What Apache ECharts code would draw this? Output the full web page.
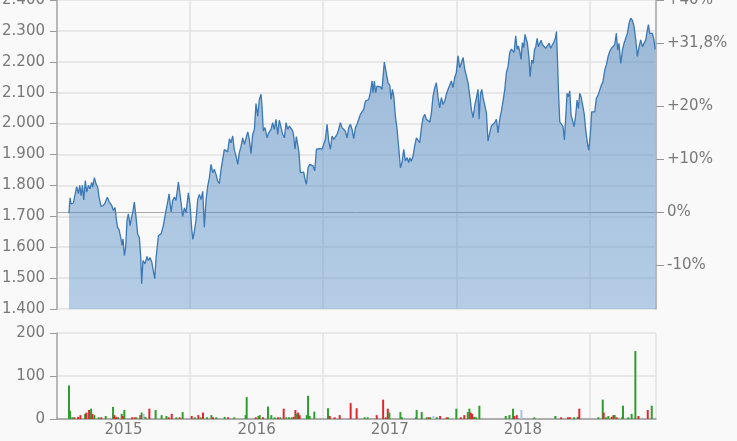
<!DOCTYPE html>
<html><head><meta charset="utf-8">
<script src="https://cdn.jsdelivr.net/npm/echarts@6/dist/echarts.min.js"></script>
<style>html,body{margin:0;padding:0;background:#f9f9f9}#c{width:737px;height:441px}</style>
</head><body><div id="c"></div>
<script>
// ---- data (dates as fractional years) ----
const priceDates = [
2015.090,2015.098,2015.105,2015.123,2015.148,2015.161,2015.171,2015.181,2015.191,2015.201,2015.213,2015.223,2015.236,2015.248,2015.261,2015.268,2015.281,2015.293,2015.306,2015.316,2015.331,2015.348,2015.361,2015.378,2015.393,2015.411,2015.424,2015.436,2015.444,2015.454,2015.466,2015.479,2015.489,2015.496,2015.506,2015.516,2015.526,2015.536,2015.549,2015.561,2015.569,2015.581,2015.591,2015.606,2015.619,2015.629,2015.636,2015.646,2015.661,2015.676,2015.686,2015.699,2015.712,2015.724,2015.734,2015.744,2015.762,2015.782,2015.799,2015.812,2015.827,2015.842,2015.857,2015.869,2015.882,2015.894,2015.912,
2015.932,2015.944,2015.957,2015.969,2015.987,2015.999,2016.012,2016.020,2016.032,2016.045,2016.057,2016.070,2016.082,2016.095,2016.107,2016.120,2016.132,2016.145,2016.157,2016.170,2016.182,2016.195,2016.207,2016.220,2016.232,2016.245,2016.257,2016.270,2016.282,2016.295,2016.307,2016.320,2016.332,2016.345,2016.358,2016.370,2016.383,2016.395,2016.408,2016.420,2016.433,2016.445,2016.458,2016.470,2016.483,2016.495,2016.508,2016.520,2016.533,2016.540,2016.550,2016.563,2016.578,2016.590,2016.608,2016.620,2016.633,2016.645,2016.658,2016.670,2016.683,2016.696,2016.708,2016.721,2016.733,2016.746,2016.758,2016.771,
2016.778,2016.788,2016.798,2016.808,2016.818,2016.828,2016.841,2016.853,2016.866,2016.874,2016.886,2016.899,2016.911,2016.924,2016.936,2016.949,2016.961,2016.974,2016.991,2017.004,2017.016,2017.029,2017.041,2017.054,2017.066,2017.079,2017.091,2017.104,2017.116,2017.129,2017.141,2017.154,2017.166,2017.179,2017.192,2017.204,2017.217,2017.229,2017.242,2017.254,2017.267,2017.279,2017.292,2017.304,2017.317,2017.329,2017.342,2017.354,2017.367,2017.374,2017.384,2017.394,2017.404,2017.417,2017.429,2017.442,2017.449,2017.459,2017.469,2017.479,2017.487,2017.500,2017.510,2017.520,2017.530,2017.542,2017.555,2017.567,2017.580,2017.592,2017.605,2017.617,2017.630,2017.642,
2017.650,2017.662,2017.675,2017.687,2017.700,2017.713,2017.725,2017.738,2017.750,2017.763,2017.775,2017.788,2017.800,2017.813,2017.825,2017.838,2017.850,2017.863,2017.875,2017.888,2017.900,2017.913,2017.925,2017.938,2017.950,2017.963,2017.975,2017.988,2018.000,2018.013,2018.025,2018.038,2018.051,2018.063,2018.076,2018.088,2018.101,2018.113,2018.126,2018.138,2018.151,2018.163,2018.171,2018.181,2018.191,2018.201,2018.213,2018.226,2018.238,2018.251,2018.263,2018.276,2018.288,2018.301,2018.313,2018.326,2018.339,2018.351,2018.364,2018.376,2018.389,2018.401,2018.414,2018.426,2018.434,2018.446,2018.456,2018.466,2018.476,2018.486,2018.496,2018.506,2018.516,
2018.521,2018.534,2018.546,2018.554,2018.566,2018.577,2018.587,2018.597,2018.607,2018.617,2018.627,2018.637,2018.647,2018.659,2018.672,2018.684,2018.697,2018.709,2018.722,2018.734,2018.744,2018.752,2018.759,2018.767,2018.777,2018.789,2018.802,2018.812,2018.822,2018.832,2018.842,2018.852,2018.862,2018.872,2018.885,2018.897,2018.907,2018.917,2018.927,2018.937,2018.947,2018.960,2018.972,2018.985,2018.995,2019.007,2019.017,2019.030,2019.040,2019.052,2019.065,2019.077,2019.090,2019.102,2019.115,2019.127,2019.140,2019.152,2019.165,2019.177,2019.190,2019.202,2019.212,2019.222,2019.235,2019.248,2019.260,2019.273,2019.285,2019.298,2019.310,2019.323,2019.335,2019.348,2019.360,2019.373,2019.385,2019.398,2019.410,2019.423,2019.433,2019.443,2019.453,2019.463,2019.473,2019.485,2019.493
];
const priceValues = [
1710,1760,1740,1743,1796,1773,1800,1767,1800,1753,1816,1778,1800,1789,1810,1794,1825,1805,1794,1762,1732,1735,1743,1762,1746,1735,1719,1728,1697,1665,1657,1630,1606,1627,1573,1600,1687,1708,1670,1699,1713,1746,1708,1643,1630,1568,1482,1557,1546,1570,1557,1566,1552,1557,1498,1563,1638,1643,1670,1703,1735,1773,1713,1751,1762,1751,1811,
1744,1700,1727,1711,1776,1738,1660,1625,1650,1690,1754,1771,1754,1781,1665,1754,1797,1825,1868,1841,1852,1835,1814,1806,1850,1854,1916,1916,1908,1951,1938,1960,1914,1895,1868,1906,1927,1954,1933,1933,1973,1949,1903,1965,1981,2065,2024,2078,2095,2057,1976,1987,1954,1970,1981,2003,1981,2014,1965,2011,2008,1965,1954,2003,1981,1992,1994,1976,
1960,1917,1958,1954,1906,1841,1836,1843,1814,1804,1857,1868,1874,1863,1847,1917,1922,1919,1917,1933,1949,1998,1944,1917,1960,1949,1944,1965,1981,2003,1987,1992,1976,1954,1987,1998,1981,1951,1987,1998,2014,2030,2035,2046,2073,2078,2078,2100,2138,2100,2138,2100,2121,2116,2119,2111,2148,2199,2175,2181,2132,2124,2078,2111,2089,2024,1981,1922,1857,1874,1917,1879,1890,1874,
1889,1878,1895,1927,1954,1954,1938,1987,2019,2030,2014,2014,2005,2035,2089,2116,2132,2084,2051,2084,2062,2073,2095,2111,2116,2138,2116,2149,2165,2219,2181,2197,2214,2176,2170,2132,2089,2046,2019,2057,2084,2111,2014,2095,2111,2084,2089,2035,1943,1970,1992,1997,2003,2014,1970,2014,2041,2073,2111,2165,2186,2230,2241,2246,2230,2284,2241,2251,2235,2208,2262,2246,2289,
2292,2260,2211,2152,2206,2195,2238,2249,2276,2249,2260,2270,2255,2260,2244,2238,2260,2244,2255,2265,2276,2298,2217,2109,2006,2001,1990,1947,2022,2098,2087,2106,2028,2028,1990,2028,2076,2049,2098,2087,2082,2033,1979,1936,1914,1968,2038,2044,2038,2082,2092,2098,2125,2136,2174,2190,2217,2233,2244,2249,2255,2292,2238,2260,2195,2238,2260,2265,2292,2325,2341,2334,2314,2271,2217,2249,2271,2249,2244,2271,2298,2320,2292,2298,2292,2271,2240
];
const volDates = [
2015.090,2015.098,2015.115,2015.130,2015.158,2015.176,2015.211,2015.221,2015.241,2015.256,2015.266,2015.281,2015.313,2015.333,2015.366,2015.421,2015.431,2015.446,2015.458,2015.486,2015.496,2015.506,2015.564,2015.584,2015.596,2015.626,2015.636,2015.651,2015.664,2015.694,2015.741,2015.786,2015.822,2015.839,2015.862,2015.897,2015.922,2015.944,
2016.012,2016.035,2016.062,2016.079,2016.097,2016.127,2016.160,2016.172,2016.197,2016.260,2016.285,2016.332,2016.417,2016.425,2016.493,2016.513,2016.523,2016.548,2016.585,2016.610,2016.635,2016.660,2016.678,2016.703,2016.723,2016.743,2016.763,2016.778,2016.791,2016.798,2016.811,2016.823,2016.876,2016.886,2016.898,2016.933,
2017.036,2017.049,2017.086,2017.124,2017.206,2017.251,2017.311,2017.334,2017.402,2017.450,2017.470,2017.485,2017.497,2017.580,2017.592,2017.697,2017.702,2017.740,2017.778,2017.793,2017.803,2017.828,2017.853,2017.878,2017.928,2017.938,
2018.000,2018.033,2018.060,2018.086,2018.098,2018.108,2018.118,2018.133,2018.148,2018.173,2018.371,2018.399,2018.426,2018.434,2018.454,2018.489,2018.586,2018.744,2018.787,2018.839,2018.854,2018.884,2018.912,2018.924,
2019.067,2019.100,2019.107,2019.125,2019.142,2019.167,2019.180,2019.190,2019.205,2019.245,2019.252,2019.292,2019.317,2019.345,2019.368,2019.438,2019.468
];
const volValues = [
78,19,4,4,5,9,12,15,21,24,12,9,4,4,7,28,9,5,4,12,7,21,4,4,4,9,15,12,5,24,21,9,7,4,12,4,4,16,
7,4,9,4,15,4,9,4,4,5,4,4,9,51,4,7,9,4,29,9,4,4,4,24,4,4,4,5,21,12,15,9,9,54,7,17,
25,7,4,9,37,25,4,4,9,45,4,24,15,16,4,4,21,16,4,4,4,7,4,7,4,4,
24,4,9,16,24,15,12,5,4,31,7,9,24,7,9,21,4,7,4,4,4,4,5,24,
4,45,15,4,7,5,9,9,4,4,31,4,12,158,7,21,31
];
// u = up (green), d = down (red), n = unchanged (light blue)
const volDir = [
'u','u','u','d','d','d','u','d','d','u','d','u','u','d','u','u','d','d','u','u','d','u','d','d','u','d','u','n','u','d','u','u','u','d','d','u','d','u',
'd','u','d','u','d','u','u','d','u','u','d','u','u','u','d','u','u','d','u','u','u','d','u','d','u','u','u','d','d','u','d','d','u','u','u','u',
'u','d','d','d','d','d','u','u','d','d','d','d','u','u','u','d','u','u','u','d','u','n','u','d','d','u',
'u','d','d','u','u','d','d','u','u','u','u','u','u','d','d','n','u','u','d','d','d','u','u','d',
'u','u','d','u','u','d','d','u','d','u','u','u','u','u','d','d','u'
];
const priceTicks = [1400,1500,1600,1700,1800,1900,2000,2100,2200,2300,2400];
const basePrice = 1714;          // 0% reference level
const lastChangePct = 31.8;      // marked change
const pctTicks = [-10, 0, 10, 20, lastChangePct, 40];
const yearLabelPos = [2015.5, 2016.5, 2017.5, 2018.5];
const volTicks = [0, 100, 200];

// ---- chart ----
const FONT = 'DejaVu Sans', TXT = '#787878', GRIDC = '#e2e2e2', AXC = '#a8a8a8';
const pMin = priceTicks[0], pMax = priceTicks[priceTicks.length - 1];
const pctMin = (pMin / basePrice - 1) * 100, pctMax = (pMax / basePrice - 1) * 100;
const dirColor = {u: '#2e9e2e', d: '#e0262e', n: '#a9c4e0'};

const chart = echarts.init(document.getElementById('c'), null, {renderer: 'canvas'});
const lbl = (o) => Object.assign({color: TXT, fontFamily: FONT, fontSize: 15}, o);
chart.setOption({
  animation: false,
  backgroundColor: '#f9f9f9',
  grid: [
    {left: 57, right: 81, top: 0, height: 309, containLabel: false, outerBoundsMode: 'none'},
    {left: 57, right: 81, top: 333, height: 86, containLabel: false, outerBoundsMode: 'none'}
  ],
  xAxis: [
    {type: 'value', gridIndex: 0, min: 2015, max: 2019.5, interval: 1,
     axisLine: {show: true, lineStyle: {color: AXC, width: 1}}, axisTick: {show: false},
     axisLabel: {show: false}, splitLine: {show: true, lineStyle: {color: GRIDC, width: 1.5}}},
    {type: 'value', gridIndex: 1, min: 2015, max: 2019.5, interval: 1,
     axisLine: {show: true, lineStyle: {color: '#9a9a9a', width: 1.5}}, axisTick: {show: false},
     axisLabel: lbl({customValues: yearLabelPos, formatter: v => String(Math.floor(v)), margin: 4}),
     splitLine: {show: true, lineStyle: {color: GRIDC, width: 1.5}}}
  ],
  yAxis: [
    {type: 'value', gridIndex: 0, position: 'left', min: pMin, max: pMax, interval: 100,
     axisLine: {show: true, lineStyle: {color: AXC, width: 1.5}},
     axisTick: {show: true, length: 7, lineStyle: {color: '#999'}},
     axisLabel: lbl({formatter: v => (v / 1000).toFixed(3), margin: 12, showMaxLabel: true}),
     splitLine: {show: true, lineStyle: {color: GRIDC, width: 1.5}}},
    {type: 'value', gridIndex: 0, position: 'right', min: pctMin, max: pctMax,
     axisLine: {show: true, lineStyle: {color: AXC, width: 1.5}},
     axisTick: {show: true, length: 8, customValues: pctTicks, lineStyle: {color: '#999'}},
     axisLabel: lbl({customValues: pctTicks, margin: 11,
       formatter: v => (v > 0 ? '+' : '') + String(v).replace('.', ',') + '%',
       color: v => (v === lastChangePct ? '#2a9a2a' : TXT)}),
     splitLine: {show: false}},
    {type: 'value', gridIndex: 1, position: 'left', min: volTicks[0], max: volTicks[2], interval: 100,
     axisLine: {show: true, lineStyle: {color: AXC, width: 1.5}},
     axisTick: {show: true, length: 7, lineStyle: {color: '#999'}},
     axisLabel: lbl({margin: 12}),
     splitLine: {show: true, lineStyle: {color: GRIDC, width: 1.5}}}
  ],
  series: [
    {type: 'line', xAxisIndex: 0, yAxisIndex: 0, showSymbol: false, smooth: false,
     data: priceDates.map((d, i) => [d, priceValues[i]]),
     lineStyle: {color: '#3b78b4', width: 1.3},
     areaStyle: {origin: 'start', opacity: 1,
       color: new echarts.graphic.LinearGradient(0, 0, 0, 1, [
         {offset: 0, color: 'rgba(78,131,185,0.55)'}, {offset: 1, color: 'rgba(79,139,201,0.40)'}])}},
    {type: 'bar', xAxisIndex: 1, yAxisIndex: 2, barWidth: 2,
     data: volDates.map((d, i) => ({value: [d, volValues[i]], itemStyle: {color: dirColor[volDir[i]]}}))}
  ]
});
</script></body></html>
